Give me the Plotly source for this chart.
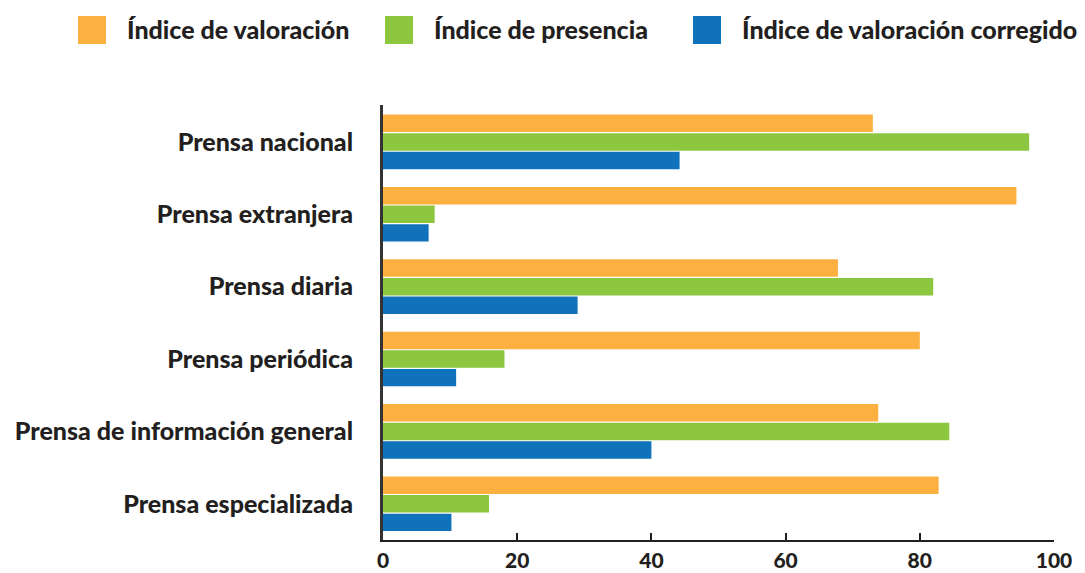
import plotly.graph_objects as go

categories = ["Prensa nacional", "Prensa extranjera", "Prensa diaria", "Prensa periódica",
              "Prensa de información general", "Prensa especializada"]
series_names = ["Índice de valoración", "Índice de presencia", "Índice de valoración corregido"]
valoracion = [73.0, 94.4, 67.8, 80.0, 73.8, 82.8]
presencia = [96.3, 7.7, 82.0, 18.1, 84.4, 15.8]
corregido = [44.2, 6.8, 29.0, 10.9, 40.0, 10.2]
x_ticks = [0, 20, 40, 60, 80, 100]

colors = ["#FBB040", "#8DC63F", "#1072BA"]
text_color = "#231F20"
FONT = "Lato"

W, H = 1085, 573
L, R, T, B = 383, 31, 105, 33
pw, ph = W - L - R, H - T - B

fig = go.Figure()
for name, vals, c in zip(series_names, [valoracion, presencia, corregido], colors):
    fig.add_trace(go.Bar(y=categories, x=vals, name=name, orientation="h",
                         marker=dict(color=c, line=dict(width=0)), showlegend=False))

def px_x(p):
    return (p - L) / pw

def px_y(p):
    return 1 - (p - T) / ph

shapes = []
annotations = []
legend_pos = [(78, 125), (385, 432), (693, 740)]
for (sx, tx), name, c in zip(legend_pos, series_names, colors):
    shapes.append(dict(type="rect", xref="paper", yref="paper",
                       x0=px_x(sx), x1=px_x(sx + 28), y0=px_y(44), y1=px_y(16),
                       fillcolor=c, line=dict(width=0)))
    annotations.append(dict(xref="paper", yref="paper", x=px_x(tx), y=px_y(29),
                            xanchor="left", yanchor="middle", text=name,
                            showarrow=False,
                            font=dict(family=FONT, size=25, weight=900, color=text_color)))

fig.update_layout(
    width=W, height=H,
    margin=dict(l=L, r=R, t=T, b=B, pad=0, autoexpand=False),
    paper_bgcolor="white", plot_bgcolor="white",
    barmode="group", bargap=0.23, bargroupgap=0.06,
    shapes=shapes, annotations=annotations,
    font=dict(family=FONT, color=text_color),
)
fig.update_xaxes(range=[0, 100], tickvals=x_ticks, ticktext=[str(v) for v in x_ticks],
                 ticks="inside", ticklen=7, tickwidth=2, tickcolor=text_color,
                 showline=True, linewidth=2, linecolor=text_color, showgrid=False, zeroline=False,
                 automargin=False, ticklabelstandoff=1,
                 tickfont=dict(family=FONT, size=21, weight=900, color=text_color))
fig.update_yaxes(range=[5.50, -0.51], tickvals=categories,
                 ticktext=categories,
                 ticks="", showline=True, linewidth=3, linecolor="#333333", showgrid=False,
                 ticklabelstandoff=22, automargin=False,
                 tickfont=dict(family=FONT, size=25, weight=900, color=text_color))

fig.write_html("out.html", config={"displayModeBar": False},
               post_script="document.body.style.margin='0';document.body.style.overflow='hidden';")
